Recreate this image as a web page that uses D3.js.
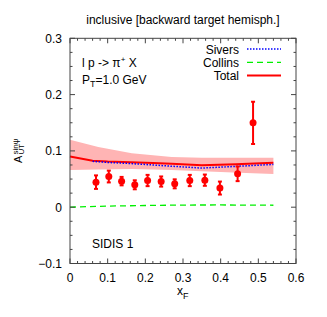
<!DOCTYPE html>
<html><head><meta charset="utf-8">
<script src="https://cdn.jsdelivr.net/npm/d3@7"></script>
<style>body{margin:0;background:#fff}svg{display:block}text{font-family:"Liberation Sans",Arial,sans-serif;fill:#000}</style>
</head><body>
<script>
const xTicks=[0,0.1,0.2,0.3,0.4,0.5,0.6];
const yTicks=[-0.1,0,0.1,0.2,0.3];
const dataX=[0.069,0.103,0.137,0.172,0.206,0.242,0.278,0.318,0.358,0.398,0.445,0.486];
const dataY=[0.0445,0.0545,0.0463,0.0398,0.0474,0.0456,0.0415,0.0474,0.048,0.034,0.0593,0.1498];
const dataErr=[0.012,0.0105,0.0075,0.008,0.01,0.009,0.008,0.01,0.01,0.0115,0.013,0.0375];
const totalX=[0,0.06,0.1,0.16,0.22,0.27,0.35,0.44,0.54];
const totalY=[0.090,0.0825,0.081,0.080,0.0785,0.0770,0.0745,0.0765,0.0790];
const siversX=[0.06,0.1,0.16,0.22,0.27,0.35,0.44,0.54];
const siversY=[0.0815,0.0795,0.0776,0.0750,0.0728,0.0695,0.0725,0.0760];
const collinsX=[0,0.1,0.2,0.3,0.4,0.54];
const collinsY=[0,0.002,0.003,0.0038,0.004,0.0035];
const bandX=[0,0.075,0.164,0.27,0.35,0.45,0.54];
const bandLo=[0.066,0.067,0.068,0.066,0.064,0.061,0.059];
const bandHi=[0.120,0.107,0.096,0.089,0.088,0.088,0.088];

const W=327,H=317;
const svg=d3.select("body").append("svg").attr("width",W).attr("height",H);
const x=d3.scaleLinear().domain([0,0.6]).range([70,296]);
const y=d3.scaleLinear().domain([-0.1,0.3]).range([263.5,38.3]);

// band
const band=bandX.map((v,i)=>({x:v,lo:bandLo[i],hi:bandHi[i]}));
svg.append("path").datum(band).attr("fill","#ffb4b4")
  .attr("d",d3.area().x(d=>x(d.x)).y0(d=>y(d.lo)).y1(d=>y(d.hi)));

const line=d3.line().x(d=>x(d[0])).y(d=>y(d[1]));
svg.append("path").datum(collinsX.map((v,i)=>[v,collinsY[i]])).attr("fill","none")
  .attr("stroke","#00f000").attr("stroke-width",1.3).attr("stroke-dasharray","6,4").attr("d",line);
svg.append("path").datum(totalX.map((v,i)=>[v,totalY[i]])).attr("fill","none")
  .attr("stroke","#ff0000").attr("stroke-width",2).attr("d",line);
svg.append("path").datum(siversX.map((v,i)=>[v,siversY[i]])).attr("fill","none")
  .attr("stroke","#0000ff").attr("stroke-width",1.5).attr("stroke-dasharray","1.5,1.5").attr("d",line);

// data points
const pts=dataX.map((v,i)=>({x:v,y:dataY[i],e:dataErr[i]}));
const g=svg.append("g").attr("stroke","#ff0000").attr("stroke-width",2);
g.selectAll(".eb").data(pts).enter().append("line")
  .attr("x1",d=>x(d.x)).attr("x2",d=>x(d.x)).attr("y1",d=>y(d.y-d.e)).attr("y2",d=>y(d.y+d.e));
g.selectAll(".ct").data(pts).enter().append("line")
  .attr("x1",d=>x(d.x)-2).attr("x2",d=>x(d.x)+2).attr("y1",d=>y(d.y+d.e)).attr("y2",d=>y(d.y+d.e));
g.selectAll(".cb").data(pts).enter().append("line")
  .attr("x1",d=>x(d.x)-2).attr("x2",d=>x(d.x)+2).attr("y1",d=>y(d.y-d.e)).attr("y2",d=>y(d.y-d.e));
svg.selectAll(".pt").data(pts).enter().append("circle")
  .attr("cx",d=>x(d.x)).attr("cy",d=>y(d.y)).attr("r",3.5).attr("fill","#ff0000");

// frame and ticks
const fc="#444";
const xMinor=d3.range(0,0.6001,0.02), yMinor=d3.range(-0.1,0.3001,0.025);
const ax=svg.append("g").attr("stroke",fc).attr("stroke-width",1);
xMinor.forEach(v=>{const isMaj=Math.abs(v*10-Math.round(v*10))<1e-6;const L=isMaj?5:2.5;
  ax.append("line").attr("x1",x(v)).attr("x2",x(v)).attr("y1",y(-0.1)).attr("y2",y(-0.1)-L);
  ax.append("line").attr("x1",x(v)).attr("x2",x(v)).attr("y1",y(0.3)).attr("y2",y(0.3)+L);});
yMinor.forEach(v=>{const isMaj=Math.abs(v*10-Math.round(v*10))<1e-6;const L=isMaj?5:2.5;
  ax.append("line").attr("y1",y(v)).attr("y2",y(v)).attr("x1",x(0)).attr("x2",x(0)+L);
  ax.append("line").attr("y1",y(v)).attr("y2",y(v)).attr("x1",x(0.6)).attr("x2",x(0.6)-L);});
svg.append("rect").attr("x",x(0)).attr("y",y(0.3)).attr("width",x(0.6)-x(0)).attr("height",y(-0.1)-y(0.3))
  .attr("fill","none").attr("stroke",fc).attr("stroke-width",1);

// tick labels
svg.selectAll(".xl").data(xTicks).enter().append("text").attr("x",d=>x(d)).attr("y",282)
  .attr("text-anchor","middle").attr("font-size",12).text(d=>d3.format("")(+d.toFixed(1)));
svg.selectAll(".yl").data(yTicks).enter().append("text").attr("x",62).attr("y",d=>y(d)+4.3)
  .attr("text-anchor","end").attr("font-size",12).text(d=>d3.format("")(+d.toFixed(1)));

// title
svg.append("text").attr("x",183).attr("y",24).attr("text-anchor","middle").attr("font-size",12)
  .text("inclusive [backward target hemisph.]");

// axis labels
const xl=svg.append("text").attr("x",177).attr("y",295).attr("font-size",12);
xl.append("tspan").text("x");
xl.append("tspan").attr("font-size",9).attr("dy",4).text("F");
const yg=svg.append("g").attr("transform","translate(22,163) rotate(-90)");
yg.append("text").attr("x",0).attr("y",0).attr("font-size",11).text("A");
yg.append("text").attr("x",8.5).attr("y",2).attr("font-size",8).text("UT");
yg.append("text").attr("x",8.5).attr("y",-4.5).attr("font-size",8).text("sinψ");

// annotations
const t1=svg.append("text").attr("x",82).attr("y",67).attr("font-size",12);
t1.append("tspan").text("l p -> π");
t1.append("tspan").attr("font-size",8).attr("dy",-5).text("+");
t1.append("tspan").attr("dy",5).text(" X");
const t2=svg.append("text").attr("x",82).attr("y",84).attr("font-size",12);
t2.append("tspan").text("P");
t2.append("tspan").attr("font-size",9).attr("dy",3).text("T");
t2.append("tspan").attr("dy",-3).text("=1.0 GeV");
svg.append("text").attr("x",92).attr("y",248).attr("font-size",12).text("SIDIS 1");

// legend
const legNames=["Sivers","Collins","Total"];
const legStyles=[{c:"#0000ff",w:1.5,d:"1.5,1.5"},{c:"#00f000",w:1.3,d:"6,4"},{c:"#ff0000",w:2,d:null}];
legNames.forEach((n,i)=>{const yy=53.5+i*13.3;
  svg.append("text").attr("x",239).attr("y",yy).attr("text-anchor","end").attr("font-size",12).text(n);
  const l=svg.append("line").attr("x1",247).attr("x2",281).attr("y1",yy-4.5).attr("y2",yy-4.5)
    .attr("stroke",legStyles[i].c).attr("stroke-width",legStyles[i].w);
  if(legStyles[i].d) l.attr("stroke-dasharray",legStyles[i].d);});
</script>
</body></html>
